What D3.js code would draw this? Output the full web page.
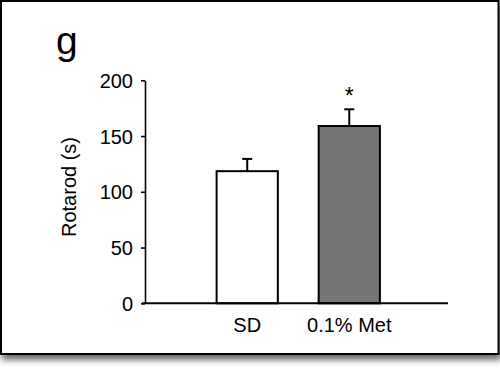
<!DOCTYPE html>
<html>
<head>
<meta charset="utf-8">
<script src="https://cdn.jsdelivr.net/npm/d3@7"></script>
<style>
body { margin: 0; background: #fff; }
text { font-family: Arial, "Liberation Sans", sans-serif; fill: #000; }
</style>
</head>
<body>
<div id="chart"></div>
<script>
//Chart data
var categories = ["SD", "0.1% Met"];
var means = [118.5, 159];
var errors = [11, 15];
var fills = ["#ffffff", "#767676"];
var yTicks = [0, 50, 100, 150, 200];
var marks = ["", "*"];

var W = 500, H = 374;

var svg = d3.select("#chart").append("svg").attr("width", W).attr("height", H);

//Drop shadow for the frame
var defs = svg.append("defs");
defs.append("filter").attr("id", "shadow").attr("x", "-5%").attr("y", "-5%").attr("width", "110%").attr("height", "115%")
    .append("feDropShadow").attr("dx", 2).attr("dy", 5).attr("stdDeviation", 3).attr("flood-color", "#444").attr("flood-opacity", 0.8);

svg.append("rect").attr("x", 1).attr("y", 1).attr("width", 497.5).attr("height", 353)
    .attr("fill", "#fff").attr("stroke", "#000").attr("stroke-width", 2).attr("filter", "url(#shadow)");

//Panel letter
svg.append("text").attr("x", 56).attr("y", 54).attr("font-size", 39).text("g");

//Scales
var y = d3.scaleLinear().domain([0, 200]).range([303.3, 80.3]);
var x = d3.scaleBand().domain(categories).range([186, 410.5]).paddingInner(0.4).paddingOuter(0.3);

//Y axis
var yAxis = svg.append("g").attr("transform", "translate(145,0)")
    .call(d3.axisLeft(y).tickValues(yTicks).tickSize(4).tickPadding(8).tickSizeOuter(0));
yAxis.select(".domain").attr("stroke", "#000").attr("stroke-width", 1.6);
yAxis.selectAll(".tick line").attr("stroke", "#000").attr("stroke-width", 1.6);
yAxis.selectAll(".tick text").attr("font-size", 20).attr("font-family", "Arial, 'Liberation Sans', sans-serif").attr("dy", "0.35em");

svg.append("text")
    .attr("transform", "translate(76,187) rotate(-90)")
    .attr("text-anchor", "middle")
    .attr("font-size", 20)
    .text("Rotarod (s)");

//Bars
var bars = svg.selectAll("g.bar").data(categories).enter().append("g").attr("class", "bar");

bars.append("line")
    .attr("x1", d => x(d) + x.bandwidth() / 2).attr("x2", d => x(d) + x.bandwidth() / 2)
    .attr("y1", (d, i) => y(means[i])).attr("y2", (d, i) => y(means[i] + errors[i]))
    .attr("stroke", "#000").attr("stroke-width", 2);

bars.append("line")
    .attr("x1", d => x(d) + x.bandwidth() / 2 - 5).attr("x2", d => x(d) + x.bandwidth() / 2 + 5)
    .attr("y1", (d, i) => y(means[i] + errors[i])).attr("y2", (d, i) => y(means[i] + errors[i]))
    .attr("stroke", "#000").attr("stroke-width", 2);

bars.append("rect")
    .attr("x", d => x(d)).attr("width", x.bandwidth())
    .attr("y", (d, i) => y(means[i])).attr("height", (d, i) => y(0) - y(means[i]))
    .attr("fill", (d, i) => fills[i]).attr("stroke", "#000").attr("stroke-width", 2);

bars.append("text")
    .attr("x", d => x(d) + x.bandwidth() / 2)
    .attr("y", (d, i) => y(means[i] + errors[i]) - 5)
    .attr("text-anchor", "middle").attr("font-size", 23)
    .text((d, i) => marks[i]);

//X axis line
svg.append("line").attr("x1", 142).attr("x2", 448).attr("y1", y(0)).attr("y2", y(0))
    .attr("stroke", "#000").attr("stroke-width", 2);

svg.selectAll("text.cat").data(categories).enter().append("text").attr("class", "cat")
    .attr("x", d => x(d) + x.bandwidth() / 2).attr("y", 331.5)
    .attr("text-anchor", "middle").attr("font-size", 20)
    .text(d => d);
</script>
</body>
</html>
